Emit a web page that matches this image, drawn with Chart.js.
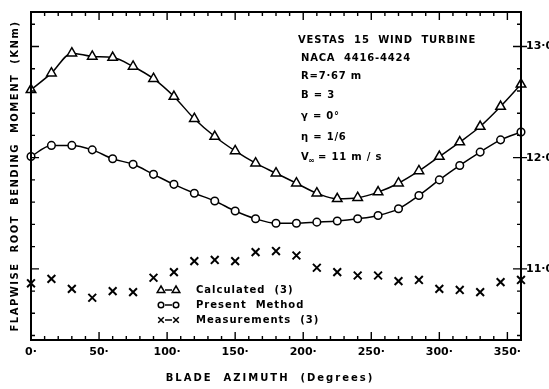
<!DOCTYPE html>
<html>
<head>
<meta charset="utf-8">
<script src="https://cdn.jsdelivr.net/npm/chart.js@4.4.1/dist/chart.umd.min.js"></script>
<style>
  html, body { margin: 0; padding: 0; background: #fff; }
  #wrap { width: 549px; height: 389px; }
</style>
</head>
<body>
<div id="wrap"><canvas id="chart" width="549" height="389"></canvas></div>
<script>
// blade azimuth (deg) of every plotted point
const azimuth = [0, 15, 30, 45, 60, 75, 90, 105, 120, 135, 150, 165, 180, 195, 210, 225, 240, 255, 270, 285, 300, 315, 330, 345, 360];
// flapwise root bending moment (kNm)
const calculated = [12.61, 12.76, 12.94, 12.91, 12.90, 12.82, 12.71, 12.55, 12.35, 12.19, 12.06, 11.95, 11.86, 11.77, 11.68, 11.63, 11.64, 11.69, 11.77, 11.88, 12.01, 12.14, 12.28, 12.46, 12.66];
const presentMethod = [12.01, 12.11, 12.11, 12.07, 11.99, 11.94, 11.85, 11.76, 11.68, 11.61, 11.52, 11.45, 11.41, 11.41, 11.42, 11.43, 11.45, 11.48, 11.54, 11.66, 11.80, 11.93, 12.05, 12.16, 12.23];
const measurements = [10.87, 10.91, 10.82, 10.74, 10.80, 10.79, 10.92, 10.97, 11.07, 11.08, 11.07, 11.15, 11.16, 11.12, 11.01, 10.97, 10.94, 10.94, 10.89, 10.90, 10.82, 10.81, 10.79, 10.88, 10.90];

const xTicks = [0, 50, 100, 150, 200, 250, 300, 350];
const yTicks = [11, 12, 13];
const infoLines = ['VESTAS  15  WIND  TURBINE', 'NACA  4416-4424', 'R=7·67 m', 'B = 3', 'γ = 0°', 'η = 1/6'];
const legendLabels = ['Calculated  (3)', 'Present  Method', 'Measurements  (3)'];

const FONT = '"DejaVu Sans", "Liberation Sans", sans-serif';

const pts = arr => azimuth.map((a, i) => ({ x: a, y: arr[i] }));

function marker(ctx, style, x, y, r) {
    ctx.beginPath();
    if (style === 'triangle') {
        ctx.moveTo(x, y - r);
        ctx.lineTo(x + r * 0.95, y + r * 0.6);
        ctx.lineTo(x - r * 0.95, y + r * 0.6);
        ctx.closePath();
        ctx.fill(); ctx.stroke();
    } else if (style === 'circle') {
        ctx.arc(x, y, r, 0, Math.PI * 2);
        ctx.fill(); ctx.stroke();
    } else {
        ctx.moveTo(x - r * 0.7, y - r * 0.7); ctx.lineTo(x + r * 0.7, y + r * 0.7);
        ctx.moveTo(x + r * 0.7, y - r * 0.7); ctx.lineTo(x - r * 0.7, y + r * 0.7);
        ctx.stroke();
    }
}

const frame = {
    id: 'frame',
    afterDatasetsDraw(chart) {
        const { ctx, chartArea: a, scales: { x, y } } = chart;
        ctx.save();
        ctx.strokeStyle = '#000';
        ctx.lineWidth = 2;
        ctx.strokeRect(a.left, a.top, a.right - a.left, a.bottom - a.top);
        ctx.lineWidth = 1.4;
        ctx.beginPath();
        for (let d = 10; d < 360; d += 10) {
            const px = x.getPixelForValue(d);
            const len = d % 50 === 0 ? 8 : 4;
            ctx.moveTo(px, a.bottom); ctx.lineTo(px, a.bottom - len);
            ctx.moveTo(px, a.top); ctx.lineTo(px, a.top + len);
        }
        for (let k = 52; k <= 66; k++) {
            const py = y.getPixelForValue(k / 5);
            const major = k % 5 === 0;
            ctx.moveTo(a.left, py); ctx.lineTo(a.left + (major ? 8 : 4), py);
            ctx.moveTo(a.right + (major ? 6 : 0), py); ctx.lineTo(a.right - (major ? 8 : 4), py);
        }
        ctx.stroke();
        ctx.restore();
    },
    afterDraw(chart) {
        const { ctx } = chart;
        ctx.save();
        ctx.fillStyle = '#000';
        ctx.strokeStyle = '#000';
        ctx.textBaseline = 'middle';

        // axis titles
        ctx.font = 'bold 10px ' + FONT;
        ctx.letterSpacing = '2px';
        ctx.textAlign = 'center';
        ctx.fillText('BLADE  AZIMUTH  (Degrees)', 270, 378);
        ctx.letterSpacing = '1.5px';
        ctx.save();
        ctx.translate(15, 176);
        ctx.rotate(-Math.PI / 2);
        ctx.fillText('FLAPWISE  ROOT  BENDING  MOMENT  (KNm)', 0, 0);
        ctx.restore();

        // info block
        ctx.textAlign = 'left';
        ctx.letterSpacing = '0.8px';
        const infoY = [40, 58, 76, 95, 116, 137];
        infoLines.forEach((t, i) => ctx.fillText(t, i === 0 ? 298 : 301, infoY[i]));
        ctx.fillText('V', 301, 157);
        ctx.font = 'bold 8px ' + FONT;
        ctx.fillText('∞', 308, 161);
        ctx.font = 'bold 10px ' + FONT;
        ctx.fillText('= 11 m / s', 318, 157);

        // legend
        const legY = [290, 305, 320];
        const styles = ['triangle', 'circle', 'cross'];
        ctx.fillStyle = '#fff';
        ctx.lineWidth = 1.5;
        styles.forEach((s, i) => {
            ctx.beginPath();
            ctx.moveTo(165, legY[i]); ctx.lineTo(172, legY[i]);
            ctx.stroke();
            marker(ctx, s, 161, legY[i], s === 'circle' ? 2.8 : 4);
            marker(ctx, s, 176, legY[i], s === 'circle' ? 2.8 : 4);
        });
        ctx.fillStyle = '#000';
        ctx.letterSpacing = '1px';
        legendLabels.forEach((t, i) => ctx.fillText(t, 196, legY[i]));
        ctx.restore();
    }
};

new Chart(document.getElementById('chart'), {
    type: 'line',
    data: {
        datasets: [
            {
                label: 'Calculated (3)', data: pts(calculated), borderColor: '#000', borderWidth: 1.5,
                pointStyle: 'triangle', pointRadius: 5.5, pointBorderWidth: 1.5,
                pointBackgroundColor: '#fff', pointBorderColor: '#000', cubicInterpolationMode: 'monotone', clip: false
            },
            {
                label: 'Present Method', data: pts(presentMethod), borderColor: '#000', borderWidth: 1.5,
                pointStyle: 'circle', pointRadius: 3.8, pointBorderWidth: 1.5,
                pointBackgroundColor: '#fff', pointBorderColor: '#000', cubicInterpolationMode: 'monotone', clip: false
            },
            {
                label: 'Measurements (3)', data: pts(measurements), showLine: false,
                pointStyle: 'crossRot', pointRadius: 5.5, pointBorderWidth: 2,
                pointBorderColor: '#000', clip: false
            }
        ]
    },
    options: {
        responsive: false,
        animation: false,
        devicePixelRatio: 1,
        layout: { padding: { left: 31, top: 12, right: 0, bottom: 0 } },
        plugins: { legend: { display: false }, tooltip: { enabled: false } },
        scales: {
            x: {
                type: 'linear', min: 0, max: 360,
                afterFit: s => { s.height = 49; },
                afterBuildTicks: s => { s.ticks = xTicks.map(v => ({ value: v })); },
                grid: { display: false, drawTicks: false },
                border: { display: false },
                ticks: { padding: 6, color: '#000', font: { family: FONT, size: 11, weight: 'bold' }, callback: v => v + '·' }
            },
            y: {
                position: 'right', min: 10.36, max: 13.31,
                afterFit: s => { s.width = 28; },
                afterBuildTicks: s => { s.ticks = yTicks.map(v => ({ value: v })); },
                grid: { display: false, drawTicks: false },
                border: { display: false },
                ticks: { padding: 5, color: '#000', font: { family: FONT, size: 11, weight: 'bold' }, callback: v => v.toFixed(1).replace('.', '·') }
            }
        }
    },
    plugins: [frame]
});
</script>
</body>
</html>
